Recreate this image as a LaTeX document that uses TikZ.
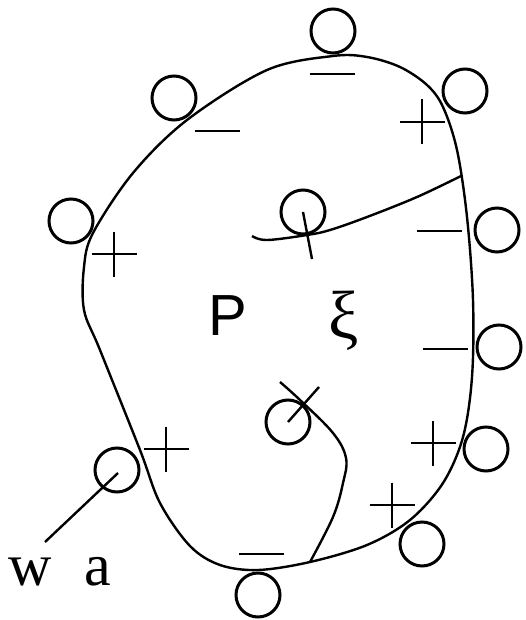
\documentclass[tikz,border=0pt]{standalone}
\usepackage{fontspec}
\setmainfont{Liberation Serif}
\newfontfamily\sansf{Liberation Sans}
\begin{document}
\begin{tikzpicture}[x=1pt,y=-1pt,
  ball/.style={draw,circle,line width=3pt,minimum size=44pt,inner sep=0pt},
  edge/.style={line width=2.4pt},
  sign/.style={line width=2.6pt},
  plussign/.pic={\draw[sign] (-22.5,0) -- (22.5,0); \draw[sign] (0,-22.5) -- (0,22.5);},
  minussign/.pic={\draw[sign] (-22.5,0) -- (22.5,0);},
  lbl/.style={inner sep=0pt,font=\fontsize{58}{60}\selectfont}
]
\useasboundingbox (0,0) rectangle (525,620);
% boundary curve
\draw[edge] plot[smooth cycle,tension=0.55] coordinates {
  (333,56) (367,57) (400,67) (427,85) (443,107) (457,150) (467,217) (473,300)
  (472,377) (463,437) (443,483) (410,520) (367,545) (310,562) (258,570)
  (220,565) (190,546) (160,503) (140,450) (100,350) (84,310) (84,267) (93,233)
  (133,173) (187,120) (267,70)};
% circles
\node[ball] (c1) at (333,31) {};
\node[ball] (c2) at (174,98) {};
\node[ball] (c3) at (465,91) {};
\node[ball] (c4) at (71,221) {};
\node[ball] (c5) at (497,230) {};
\node[ball] (c6) at (303,212) {};
\node[ball] (c7) at (499,347) {};
\node[ball] (c8) at (288,422) {};
\node[ball] (c9) at (117,470) {};
\node[ball] (c10) at (486,449) {};
\node[ball] (c11) at (422,544) {};
\node[ball] (c12) at (258,595) {};
% inner curves
\draw[edge] plot[smooth,tension=0.6] coordinates {
  (461,176) (417,197) (367,217) (330,230) (307,235) (267,240) (252,236)};
\draw[edge] plot[smooth,tension=0.6] coordinates {
  (310,562) (333,517) (343,483) (346,458) (333,433) (300,400) (280,382)};
% sticks
\coordinate (s6) at (312,259);
\coordinate (s8) at (319,387);
\coordinate (s9) at (45,542);
\draw[edge] (c6.center) -- (s6);
\draw[edge] (c8.center) -- (s8);
\draw[edge] ([shift={(1,3)}]c9.center) -- (s9);
% signs
\pic at (332,74) {minussign};
\pic at (217,131) {minussign};
\pic at (439,231) {minussign};
\pic at (445,349) {minussign};
\pic at (261,554) {minussign};
\pic at (422,122) {plussign};
\pic at (114,254) {plussign};
\pic at (166,449) {plussign};
\pic at (433,443) {plussign};
\pic at (392,505) {plussign};
% labels
\node[lbl,font=\sansf\fontsize{58}{60}\selectfont,anchor=base west] (P) at (208,335) {P};
\node[lbl,font=\fontsize{68}{70}\selectfont,anchor=base] (xi) at (344,338) {ξ};
\node[lbl,font=\fontsize{60}{62}\selectfont,anchor=base west] (wa) at (8,585) {w\hspace{0.55em}a};
\end{tikzpicture}
\end{document}
